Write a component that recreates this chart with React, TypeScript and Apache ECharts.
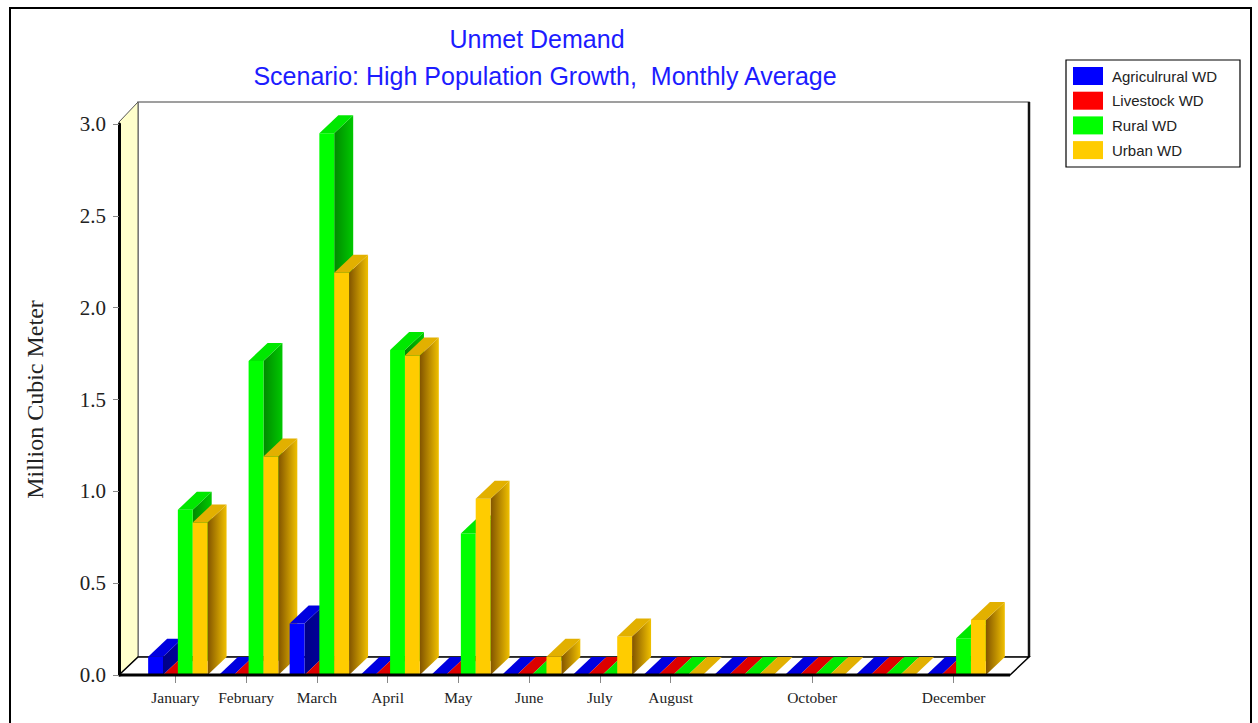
import { useEffect, useRef } from "react";
import * as echarts from "echarts";

// Monthly unmet demand, million cubic meters
const months = [
  "January", "February", "March", "April", "May", "June",
  "July", "August", "September", "October", "November", "December",
];
const agricultural = [0.1, 0, 0.28, 0, 0, 0, 0, 0, 0, 0, 0, 0];
const livestock = [0, 0, 0, 0, 0, 0, 0, 0, 0, 0, 0, 0];
const rural = [0.9, 1.71, 2.95, 1.77, 0.77, 0, 0, 0, 0, 0, 0, 0.2];
const urban = [0.83, 1.19, 2.19, 1.74, 0.96, 0.1, 0.21, 0, 0, 0, 0, 0.3];
const seriesNames = ["Agriculrural WD", "Livestock WD", "Rural WD", "Urban WD"];
const seriesValues = [agricultural, livestock, rural, urban];
const hiddenMonthLabels = [8, 10];

// face colours of each extruded bar: front, top, side gradient (dark -> light)
const palettes = [
  { front: "#0000ff", top: "#0000e0", side: ["#000088", "#00009c"] },
  { front: "#ff0000", top: "#dd0000", side: ["#8c0000", "#c80000"] },
  { front: "#00ff00", top: "#00e800", side: ["#008a00", "#00c800"] },
  { front: "#ffcc00", top: "#e2b000", side: ["#825400", "#f0c000"] },
];

// oblique depth of the box
const DX = 19;
const DY = 18;

// frame geometry of the box
const FRONT_LEFT = 119;
const FRONT_RIGHT = 1010;
const FLOOR_Y = 675;
const WALL_TOP = 102;

function makeRenderer(s: number) {
  const pal = palettes[s];
  return (_params: any, api: any) => {
    const m = api.value(0);
    const v = api.value(1);
    const top = api.coord([m, v]);
    const base = api.coord([m, 0]);
    const band = api.size([1, 0])[0];
    const w = band * 0.21;
    const x0 = top[0] - band * 0.385 + s * w;
    const yt = top[1];
    const yb = base[1];
    const z2 = m * 10 + s;
    const children: any[] = [];
    if (yb - yt > 0.5) {
      children.push({
        type: "polygon",
        z2,
        shape: {
          points: [
            [x0 + w, yb],
            [x0 + w, yt],
            [x0 + w + DX, yt - DY],
            [x0 + w + DX, yb - DY],
          ],
        },
        style: {
          fill: new echarts.graphic.LinearGradient(0, 0, 1, 0, [
            { offset: 0, color: pal.side[0] },
            { offset: 1, color: pal.side[1] },
          ]),
        },
      });
      children.push({
        type: "rect",
        z2,
        shape: { x: x0, y: yt, width: w, height: yb - yt },
        style: { fill: pal.front },
      });
    }
    children.push({
      type: "polygon",
      z2,
      shape: {
        points: [
          [x0, yt],
          [x0 + w, yt],
          [x0 + w + DX, yt - DY],
          [x0 + DX, yt - DY],
        ],
      },
      style: { fill: pal.top },
    });
    return { type: "group", children };
  };
}

export default function App() {
  const ref = useRef<HTMLDivElement>(null);

  useEffect(() => {
    if (!ref.current) return;
    const chart = echarts.init(ref.current, null, { renderer: "svg" });

    const showLabel = (index: number) => !hiddenMonthLabels.includes(index);

    const titleStyle = {
      color: "#1c1cff",
      fontFamily: "Liberation Sans",
      fontWeight: "normal",
      fontSize: 25,
    };

    const option: any = {
      animation: false,
      backgroundColor: "#ffffff",
      title: [
        {
          text: "Unmet Demand",
          left: 532,
          top: 21,
          textAlign: "center",
          textStyle: titleStyle,
        },
        {
          text: "Scenario: High Population Growth,  Monthly Average",
          left: 540,
          top: 58,
          textAlign: "center",
          textStyle: titleStyle,
        },
      ],
      legend: {
        orient: "vertical",
        left: 1073,
        top: 67,
        padding: 0,
        itemWidth: 30,
        itemHeight: 18,
        itemGap: 6.7,
        icon: "rect",
        data: seriesNames,
        selectedMode: false,
        textStyle: {
          color: "#222222",
          fontFamily: "Liberation Sans",
          fontSize: 15,
          padding: [0, 0, 0, 4],
        },
      },
      grid: { left: 140, top: 124, width: 849, height: 551 },
      xAxis: {
        type: "category",
        data: months,
        boundaryGap: true,
        axisLine: { show: false },
        axisTick: {
          show: true,
          alignWithLabel: true,
          length: 8,
          interval: (i: number) => showLabel(i),
          lineStyle: { color: "#888888", width: 1 },
        },
        axisLabel: {
          interval: (i: number) => showLabel(i),
          margin: 14,
          color: "#222222",
          fontFamily: "Liberation Serif",
          fontSize: 15.5,
        },
        splitLine: { show: false },
      },
      yAxis: {
        type: "value",
        min: 0,
        max: 3,
        interval: 0.5,
        offset: 21,
        name: "Million Cubic Meter",
        nameLocation: "middle",
        nameGap: 72,
        nameTextStyle: {
          color: "#222222",
          fontFamily: "Liberation Serif",
          fontSize: 24,
        },
        axisLine: { show: true, lineStyle: { color: "#000000", width: 3 } },
        axisTick: { show: true, length: 6, lineStyle: { color: "#888888" } },
        axisLabel: {
          margin: 13,
          color: "#222222",
          fontFamily: "Liberation Serif",
          fontSize: 21,
          formatter: (v: number) => v.toFixed(1),
        },
        splitLine: { show: false },
      },
      graphic: [
        // outer frame
        {
          type: "rect",
          z: -2,
          silent: true,
          shape: { x: 10, y: 8, width: 1241, height: 740 },
          style: { fill: "#ffffff", stroke: "#000000", lineWidth: 2 },
        },
        // legend box
        {
          type: "rect",
          z: -1,
          silent: true,
          shape: { x: 1066, y: 60, width: 174, height: 107 },
          style: { fill: "#ffffff", stroke: "#000000", lineWidth: 1.2 },
        },
        // back wall
        {
          type: "rect",
          z: -1,
          silent: true,
          shape: {
            x: FRONT_LEFT + DX,
            y: WALL_TOP,
            width: FRONT_RIGHT - FRONT_LEFT,
            height: FLOOR_Y - DY - WALL_TOP,
          },
          style: { fill: "#ffffff", stroke: "#808080", lineWidth: 1.5 },
        },
        {
          type: "line",
          z: -1,
          silent: true,
          shape: {
            x1: FRONT_RIGHT + DX,
            y1: WALL_TOP,
            x2: FRONT_RIGHT + DX,
            y2: FLOOR_Y - DY,
          },
          style: { stroke: "#111111", lineWidth: 2.5 },
        },
        // left wall
        {
          type: "polygon",
          z: -1,
          silent: true,
          shape: {
            points: [
              [FRONT_LEFT, WALL_TOP + 20],
              [FRONT_LEFT + DX, WALL_TOP],
              [FRONT_LEFT + DX, FLOOR_Y - DY],
              [FRONT_LEFT, FLOOR_Y],
            ],
          },
          style: { fill: "#ffffcc", stroke: "#555555", lineWidth: 1 },
        },
        // floor
        {
          type: "polygon",
          z: -1,
          silent: true,
          shape: {
            points: [
              [FRONT_LEFT, FLOOR_Y],
              [FRONT_RIGHT, FLOOR_Y],
              [FRONT_RIGHT + DX, FLOOR_Y - DY],
              [FRONT_LEFT + DX, FLOOR_Y - DY],
            ],
          },
          style: { fill: "#ffffff", stroke: "#000000", lineWidth: 1.5 },
        },
        // front edge of the floor
        {
          type: "line",
          z: 10,
          silent: true,
          shape: { x1: FRONT_LEFT, y1: FLOOR_Y, x2: FRONT_RIGHT, y2: FLOOR_Y },
          style: { stroke: "#000000", lineWidth: 3 },
        },
      ],
      series: seriesValues.map((vals, s) => ({
        type: "custom",
        name: seriesNames[s],
        silent: true,
        itemStyle: { color: palettes[s].front },
        encode: { x: 0, y: 1 },
        data: vals.map((v, i) => [i, v]),
        renderItem: makeRenderer(s),
      })),
    };

    chart.setOption(option);
    return () => chart.dispose();
  }, []);

  return (
    <div
      ref={ref}
      style={{ position: "fixed", left: 0, top: 0, width: 1258, height: 723 }}
    />
  );
}
